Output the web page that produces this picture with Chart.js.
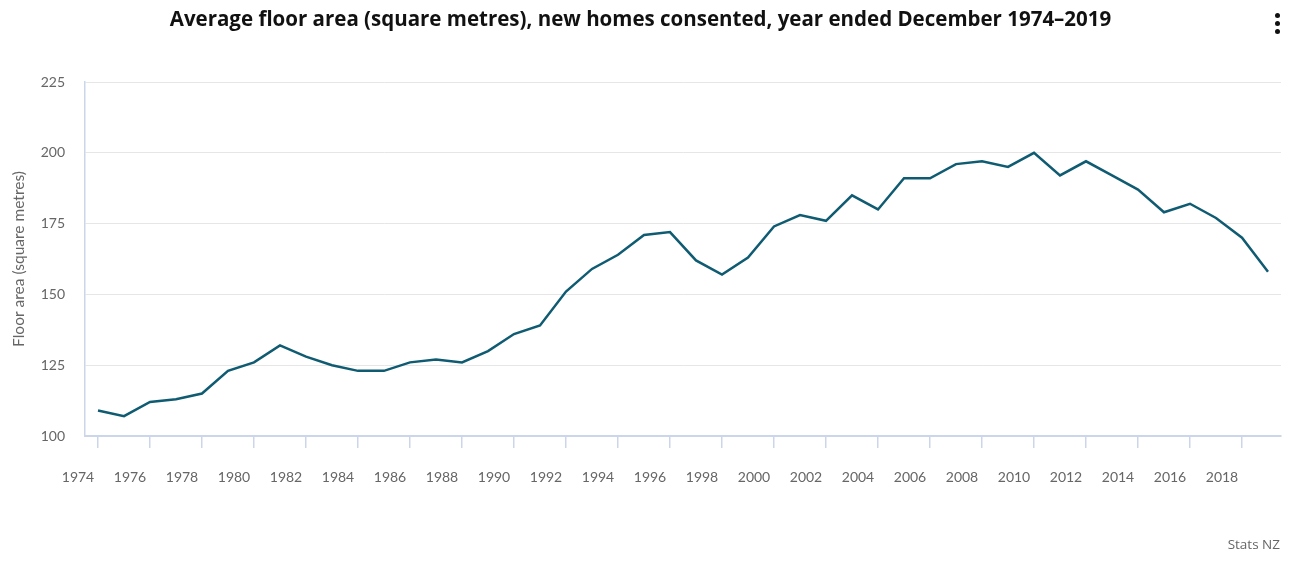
<!DOCTYPE html>
<html>
<head>
<meta charset="utf-8">
<script src="https://cdn.jsdelivr.net/npm/chart.js@4"></script>
<style>
  html, body { margin: 0; padding: 0; background: #fff; }
  #wrap { position: relative; width: 1294px; height: 575px; }
  #credit {
    position: absolute; right: 14px; top: 535px;
    font: 13.5px "Open Sans", sans-serif; color: #666;
  }
  #menu { position: absolute; left: 1275px; top: 13px; width: 6px; }
  #menu span { display: block; width: 5px; height: 5px; border-radius: 50%; background: #111; margin-bottom: 3px; }
</style>
</head>
<body>
<div id="wrap">
  <canvas id="floorChart" width="1294" height="575"></canvas>
  <div id="menu"><span></span><span></span><span></span></div>
  <div id="credit">Stats NZ</div>
</div>
<script>
const years = [];
for (let y = 1974; y <= 2019; y++) years.push(y);

const floorArea = [
  109, 107, 112, 113, 115, 123, 126, 132, 128, 125,
  123, 123, 126, 127, 126, 130, 136, 139, 151, 159,
  164, 171, 172, 162, 157, 163, 174, 178, 176, 185,
  180, 191, 191, 196, 197, 195, 200, 192, 197, 192,
  187, 179, 182, 177, 170, 158
];

const xTicks = [1974, 1976, 1978, 1980, 1982, 1984, 1986, 1988, 1990, 1992, 1994, 1996,
  1998, 2000, 2002, 2004, 2006, 2008, 2010, 2012, 2014, 2016, 2018];
const yTicks = [100, 125, 150, 175, 200, 225];

const axisColor = '#ccd6eb';
const labelColor = '#666666';

new Chart(document.getElementById('floorChart'), {
  type: 'line',
  data: {
    datasets: [{
      label: 'Floor area',
      data: years.map((y, i) => ({ x: y, y: floorArea[i] })),
      borderColor: '#0f5b72',
      borderWidth: 2.5,
      pointRadius: 0,
      tension: 0,
      fill: false
    }]
  },
  options: {
    responsive: false,
    animation: false,
    layout: { padding: { left: 0, right: 13, top: 0, bottom: 79 } },
    plugins: {
      legend: { display: false },
      tooltip: { enabled: false },
      title: {
        display: true,
        text: 'Average floor area (square metres), new homes consented, year ended December 1974\u20132019',
        color: '#111',
        font: { family: 'Open Sans', size: 20.5, weight: 'bold' },
        padding: { top: 8, bottom: 49.4 }
      }
    },
    scales: {
      x: {
        type: 'linear',
        min: 1973.5,
        max: 2019.5,
        afterBuildTicks: (axis) => { axis.ticks = xTicks.map(v => ({ value: v })); },
        afterFit: (axis) => { axis.height = 60; },
        border: { color: axisColor, width: 2 },
        grid: { drawOnChartArea: false, drawTicks: true, tickLength: 12, tickColor: axisColor, lineWidth: 1.5 },
        ticks: {
          autoSkip: false,
          maxRotation: 0,
          labelOffset: -20,
          padding: 21,
          color: labelColor,
          font: { family: 'Lato', size: 14 },
          callback: (v) => String(v)
        }
      },
      y: {
        min: 100,
        max: 225,
        afterBuildTicks: (axis) => { axis.ticks = yTicks.map(v => ({ value: v })); },
        afterFit: (axis) => { axis.width = 85; },
        border: { color: axisColor, width: 1.5 },
        grid: { color: '#e6e6e6', lineWidth: 1, drawTicks: false },
        ticks: {
          padding: 20,
          color: labelColor,
          font: { family: 'Lato', size: 14 }
        },
        title: {
          display: true,
          text: 'Floor area (square metres)',
          color: labelColor,
          font: { family: 'Lato', size: 15.5 },
          padding: { top: 10, bottom: 0 }
        }
      }
    }
  }
});
</script>
</body>
</html>
